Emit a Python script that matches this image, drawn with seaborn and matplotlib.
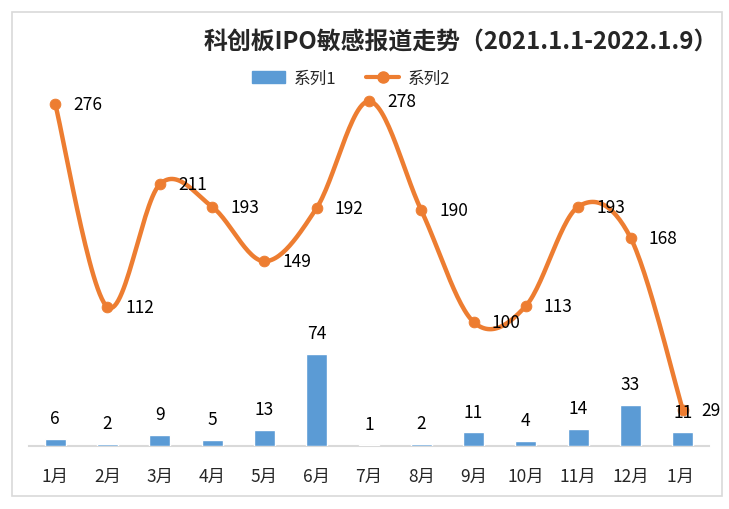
import numpy as np
import matplotlib
matplotlib.use("Agg")
import matplotlib.pyplot as plt
import seaborn as sns
import pandas as pd
from matplotlib.patches import Rectangle
from matplotlib.lines import Line2D

sns.set_theme(style="white")
plt.rcParams['font.family'] = ['Noto Sans CJK SC', 'DejaVu Sans']

categories = ["1月", "2月", "3月", "4月", "5月", "6月", "7月", "8月", "9月", "10月", "11月", "12月", "1月 "]
series1 = [6, 2, 9, 5, 13, 74, 1, 2, 11, 4, 14, 33, 11]
series2 = [276, 112, 211, 193, 149, 192, 278, 190, 100, 113, 193, 168, 29]
title = "科创板IPO敏感报道走势（2021.1.1-2022.1.9）"

BLUE = "#5B9BD5"
ORANGE = "#ED7D31"

fig = plt.figure(figsize=(7.29, 5.10), dpi=100)
ax = fig.add_axes([29/729, 63/510, 680/729, 372/510])

df = pd.DataFrame({"cat": categories, "s1": series1, "s2": series2})
sns.barplot(data=df, x="cat", y="s1", color=BLUE, width=0.4, ax=ax, saturation=1)
for p in ax.patches:
    p.set_zorder(2.7)

# smoothed line (Bezier like Excel's smoothed line)
x = np.arange(len(series2), dtype=float)
y = np.array(series2, dtype=float)
px = np.concatenate([[x[0]], x, [x[-1]]])
py = np.concatenate([[y[0]], y, [y[-1]]])
sx, sy = [], []
t = np.linspace(0, 1, 30)
for i in range(len(x) - 1):
    p0 = np.array([px[i], py[i]]); p1 = np.array([px[i+1], py[i+1]])
    p2 = np.array([px[i+2], py[i+2]]); p3 = np.array([px[i+3], py[i+3]])
    c1 = p1 + (p2 - p0) / 6
    c2 = p2 - (p3 - p1) / 6
    b = ((1-t)**3)[:, None]*p1 + (3*(1-t)**2*t)[:, None]*c1 + (3*(1-t)*t**2)[:, None]*c2 + (t**3)[:, None]*p2
    sx.extend(b[:, 0]); sy.extend(b[:, 1])
ax.plot(sx, sy, color=ORANGE, lw=3.2, solid_capstyle="round", zorder=3)
sns.scatterplot(x=x, y=y, color=ORANGE, s=60, edgecolor=ORANGE, ax=ax, zorder=4, legend=False)

for i, v in enumerate(series1):
    ax.annotate(str(v), (i, v), xytext=(0, 15), textcoords="offset points",
                ha="center", va="center", fontsize=12.5, color="black", zorder=5)
for i, v in enumerate(series2):
    ax.annotate(str(v), (i, v), xytext=(13, 0), textcoords="offset points",
                ha="left", va="center", fontsize=12.5, color="black", zorder=5)

ax.set_ylim(0, 300)
ax.set_xlim(-0.5, len(categories) - 0.5)
ax.set_xlabel(""); ax.set_ylabel("")
ax.set_yticks([])
ax.tick_params(axis="x", length=0, labelsize=12.5, pad=15)
for s in ["top", "left", "right"]:
    ax.spines[s].set_visible(False)
ax.spines["bottom"].set_color("#D9D9D9")
ax.spines["bottom"].set_linewidth(1.5)
ax.spines["bottom"].set_zorder(1)
ax.patch.set_alpha(0)

fig.text(461/729, 1 - 42/510, title, ha="center", va="center", fontsize=17.2, fontweight="bold")

handles = [Rectangle((0, 0), 1, 1, color=BLUE),
           Line2D([0], [0], color=ORANGE, lw=3, marker="o", markersize=8)]
fig.legend(handles, ["系列1", "系列2"], loc="center", bbox_to_anchor=(351/729, 1 - 79/510),
           ncol=2, frameon=False, fontsize=12, handlelength=2.0, columnspacing=1.8, handletextpad=0.5)

fig.add_artist(Rectangle((12/729, 13/510), 710/729, 484/510, transform=fig.transFigure,
                         fill=False, edgecolor="#D9D9D9", lw=1.2))

fig.savefig("out.png", dpi=100, facecolor="white")
